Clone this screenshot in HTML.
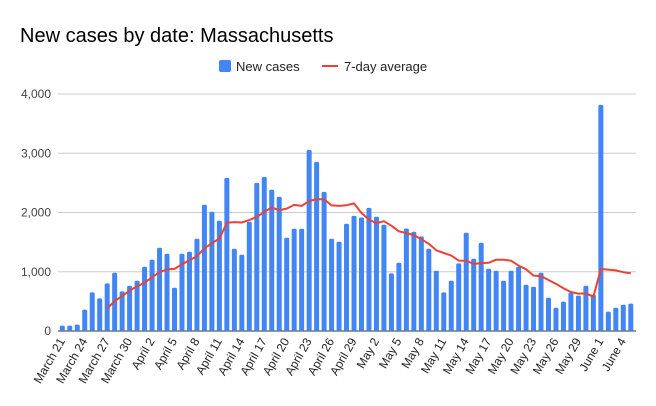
<!DOCTYPE html>
<html><head><meta charset="utf-8"><style>
body{margin:0;background:#fff;}
svg{display:block;font-family:"Liberation Sans",Arial,sans-serif;}
</style></head><body>
<svg id="c" width="656" height="406" xmlns="http://www.w3.org/2000/svg">
<rect width="656" height="406" fill="#fff"/>
<text x="20" y="42" font-size="20" fill="#000">New cases by date: Massachusetts</text>
<rect x="219" y="60" width="12" height="12" rx="2" fill="#4285f4"/>
<text x="236" y="71" font-size="13" fill="#222">New cases</text>
<line x1="322" y1="66" x2="338" y2="66" stroke="#ea4335" stroke-width="2"/>
<text x="344" y="71" font-size="13" fill="#222">7-day average</text>
<g id="grid"></g>
<g id="bars"></g>
<g id="lbl"></g>
</svg>
<script>
var d=[90,90,107,360,652,551,804,984,669,764,849,1085,1203,1405,1304,731,1304,1338,1557,2130,2012,1860,2585,1388,1287,1843,2501,2602,2383,2265,1574,1725,1725,3057,2855,2349,1557,1506,1810,1944,1916,2079,1928,1793,972,1152,1731,1675,1596,1388,1017,652,849,1141,1658,1220,1489,1051,1017,849,1017,1085,781,747,984,562,393,495,646,596,764,613,3816,326,393,444,461];
var y0=331,k=59.25/1000;
var g="";
for(var i=0;i<=4;i++){var y=y0-i*1000*k;
g+='<line x1="58" x2="636" y1="'+y+'" y2="'+y+'" stroke="'+(i==0?'#333':'#ccc')+'" stroke-width="1"/>';
g+='<text x="51" y="'+(y+4)+'" font-size="12" fill="#444" text-anchor="end">'+(i==0?'0':i+',000')+'</text>';}
document.getElementById('grid').innerHTML=g;
function X(i){return 62.3+i*7.48;}
var b="";
for(var i=0;i<d.length;i++){var h=d[i]*k;b+='<rect x="'+(X(i)-2.5)+'" y="'+(y0-h)+'" width="5" height="'+h+'" rx="1.5" fill="#4285f4"/>';}
var p=[];
for(var i=6;i<d.length;i++){var sm=0;for(var j=i-6;j<=i;j++)sm+=d[j];p.push(X(i).toFixed(1)+','+(y0-sm/7*k).toFixed(1));}
b+='<polyline points="'+p.join(' ')+'" fill="none" stroke="#ea4335" stroke-width="2" stroke-linejoin="round"/>';
document.getElementById('bars').innerHTML=b;
var names=["March 21","March 24","March 27","March 30","April 2","April 5","April 8","April 11","April 14","April 17","April 20","April 23","April 26","April 29","May 2","May 5","May 8","May 11","May 14","May 17","May 20","May 23","May 26","May 29","June 1","June 4"];
var l="";
for(var i=0;i<names.length;i++){var x=X(i*3)+3,y=341;
l+='<text x="'+x+'" y="'+y+'" font-size="12" fill="#222" text-anchor="end" transform="rotate(-60 '+x+' '+y+')">'+names[i]+'</text>';}
document.getElementById('lbl').innerHTML=l;
</script>
</body></html>
